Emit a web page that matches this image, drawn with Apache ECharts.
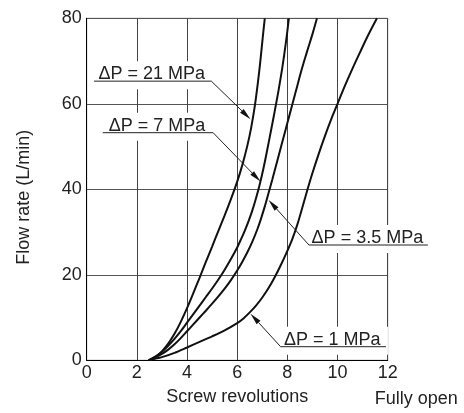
<!DOCTYPE html>
<html><head><meta charset="utf-8">
<script src="https://cdn.jsdelivr.net/npm/echarts@6/dist/echarts.min.js"></script>
<style>html,body{margin:0;padding:0;background:#fff}#c{width:464px;height:413px}</style>
</head><body><div id="c"></div>
<script>
// ---- data ----
const xRange = [0, 12];   // screw revolutions
const yRange = [0, 80];   // flow rate L/min
const curve21 = [[2.47,0],[2.75,0.8],[3,2.1],[3.25,3.9],[3.5,6.2],[3.75,9],[4,12.2],[4.25,15.7],[4.5,19.3],[4.75,23],[5,26.6],[5.25,30.3],[5.5,33.9],[5.75,37.7],[6,41.8],[6.2,45.6],[6.4,50.1],[6.55,54.2],[6.7,59.4],[6.82,64.7],[6.93,70.4],[7.02,75.6],[7.1,80]];
const curve7  = [[2.47,0],[2.75,0.9],[3,2],[3.25,3.4],[3.5,5],[3.75,6.8],[4,8.8],[4.25,10.8],[4.5,12.8],[4.75,14.8],[5,16.8],[5.25,18.9],[5.5,21.2],[5.75,23.7],[6,26.4],[6.15,28.3],[6.3,30.3],[6.45,32.5],[6.6,35],[6.75,37.9],[6.9,41.2],[7.05,45],[7.2,49.3],[7.35,53.8],[7.5,58.4],[7.65,63.2],[7.8,68.5],[7.95,74.7],[8.06,80]];
const curve35 = [[2.47,0],[2.75,0.7],[3,1.5],[3.25,2.5],[3.5,3.75],[3.75,5.2],[4,6.8],[4.25,8.4],[4.5,10],[4.75,11.6],[5,13.25],[5.25,14.95],[5.5,16.75],[5.75,18.75],[6,21],[6.2,23],[6.4,25.2],[6.6,27.7],[6.8,30.6],[6.95,33.15],[7.1,36],[7.25,39.15],[7.4,42.3],[7.6,46.7],[7.8,51.1],[8,55.5],[8.2,59.9],[8.4,64.3],[8.55,67.6],[8.7,70.6],[8.85,73.45],[9,76.3],[9.18,80]];
const curve1  = [[2.47,0],[3,0.74],[3.5,1.74],[4,3],[4.5,4.3],[5,5.6],[5.5,7],[6,8.7],[6.25,9.8],[6.5,11.2],[6.75,12.8],[7,14.7],[7.25,16.9],[7.5,19.5],[7.75,22.4],[8,25.6],[8.2,28.4],[8.4,31.8],[8.6,35.8],[8.8,39.9],[9,43.8],[9.25,48.3],[9.5,52.5],[9.75,56.4],[10,60],[10.3,64.3],[10.6,68.3],[10.9,72.1],[11.2,75.8],[11.57,80]];
const curveNames = ['ΔP = 21 MPa','ΔP = 7 MPa','ΔP = 3.5 MPa','ΔP = 1 MPa'];
// annotation anchors in data units: underline x-start, x-end, y; arrow tip x, y
const underlineX0 = [0.29, 0.64, 8.86, 7.73];
const underlineX1 = [4.97, 5.04, 13.6, 11.93];
const underlineY  = [65.3, 53.24, 26.97, 3.18];
const tipX = [6.53, 6.93, 7.25, 6.53];
const tipY = [56.4, 41.8, 37.5, 10.9];

const FONT = '"Liberation Sans", Arial, sans-serif';
const chart = echarts.init(document.getElementById('c'), null, {renderer:'canvas'});
const curves = [curve21, curve7, curve35, curve1];

chart.setOption({
  animation: false,
  grid: {left: 86.7, right: 76.3, top: 18.3, bottom: 52.7, show: true, borderColor: '#888', borderWidth: 1},
  xAxis: {
    type: 'value', min: xRange[0], max: xRange[1], interval: 2,
    name: 'Screw revolutions', nameLocation: 'middle', nameGap: 28,
    nameTextStyle: {fontFamily: FONT, fontSize: 18, color: '#222'},
    axisLine: {show: true, lineStyle: {color: '#000', width: 1}},
    axisTick: {show: false},
    axisLabel: {fontFamily: FONT, fontSize: 18, color: '#222', margin: 4},
    splitLine: {show: true, lineStyle: {color: '#444', width: 1}}
  },
  yAxis: {
    type: 'value', min: yRange[0], max: yRange[1], interval: 20,
    name: 'Flow rate (L/min)', nameLocation: 'middle', nameGap: 54,
    nameTextStyle: {fontFamily: FONT, fontSize: 18, color: '#222', padding: [0, 16, 0, 0]},
    axisLine: {show: true, lineStyle: {color: '#000', width: 1}},
    axisTick: {show: false},
    axisLabel: {fontFamily: FONT, fontSize: 18, color: '#222', margin: 5},
    splitLine: {show: true, lineStyle: {color: '#555', width: 1}}
  },
  series: curves.map((d, i) => ({
    name: curveNames[i], type: 'line', data: d, smooth: 0.3, showSymbol: false, silent: true,
    lineStyle: {color: '#111', width: 2}, z: 3
  }))
});

function buildGraphic() {
  const els = [];
  curveNames.forEach((txt, i) => {
    const p0 = chart.convertToPixel({gridIndex: 0}, [underlineX0[i], underlineY[i]]);
    const p1 = chart.convertToPixel({gridIndex: 0}, [underlineX1[i], underlineY[i]]);
    const tip = chart.convertToPixel({gridIndex: 0}, [tipX[i], tipY[i]]);
    const d0 = Math.hypot(tip[0]-p0[0], tip[1]-p0[1]);
    const d1 = Math.hypot(tip[0]-p1[0], tip[1]-p1[1]);
    const from = d0 < d1 ? p0 : p1;
    els.push({type: 'rect', z: 5, silent: true,
      shape: {x: p0[0]-2, y: p0[1]-20, width: p1[0]-p0[0]+4, height: 28}, style: {fill: '#fff'}});
    els.push({type: 'text', z: 6, silent: true,
      style: {text: txt, x: (p0[0]+p1[0])/2 - 1, y: p0[1] + 2, align: 'center', verticalAlign: 'bottom',
        font: '18px ' + FONT, fill: '#222'}});
    els.push({type: 'line', z: 7, silent: true,
      shape: {x1: p0[0], y1: p0[1], x2: p1[0], y2: p1[1]}, style: {stroke: '#222', lineWidth: 1}});
    const dx = tip[0]-from[0], dy = tip[1]-from[1];
    const L = Math.hypot(dx, dy); const ux = dx/L, uy = dy/L;
    const bx = tip[0]-ux*12, by = tip[1]-uy*12;
    els.push({type: 'line', z: 7, silent: true,
      shape: {x1: from[0], y1: from[1], x2: bx, y2: by}, style: {stroke: '#222', lineWidth: 1}});
    els.push({type: 'polygon', z: 7, silent: true,
      shape: {points: [[tip[0], tip[1]], [bx - uy*2.6, by + ux*2.6], [bx + uy*2.6, by - ux*2.6]]},
      style: {fill: '#111'}});
  });
  const pEnd = chart.convertToPixel({gridIndex: 0}, [xRange[1], yRange[0]]);
  els.push({type: 'text', z: 6, silent: true,
    style: {text: 'Fully open', x: pEnd[0] - 13, y: pEnd[1] + 30, align: 'left', verticalAlign: 'top',
      font: '18px ' + FONT, fill: '#222'}});
  chart.setOption({graphic: els});
}
buildGraphic();
</script>
</body></html>
